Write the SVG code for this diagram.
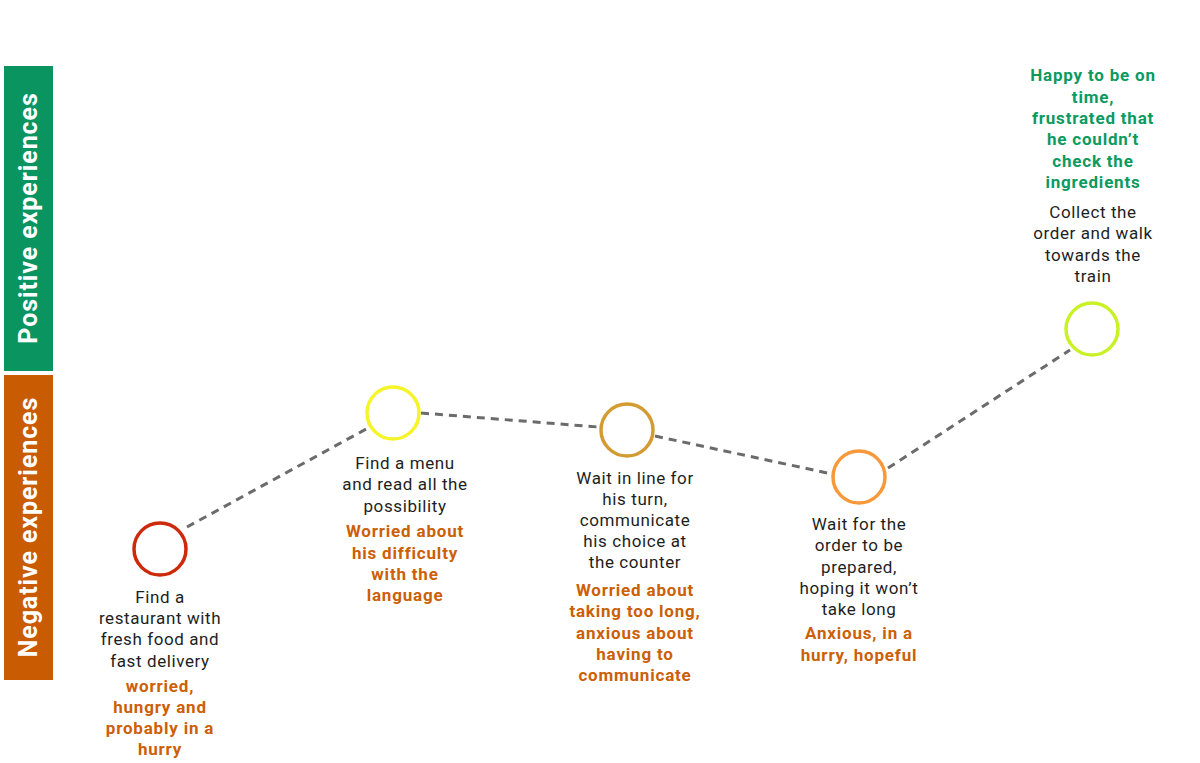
<svg xmlns="http://www.w3.org/2000/svg" width="1200" height="763" viewBox="0 0 1200 763">
  <style>
    .band { font-family: "Roboto", "Liberation Sans", sans-serif; font-weight: 700; font-size: 25px; letter-spacing: 0.9px; fill: #ffffff; text-anchor: middle; }
    .step { font-family: "Roboto", "Liberation Sans", sans-serif; font-size: 17px; letter-spacing: 0.6px; fill: #1e1e1e; text-anchor: middle; }
    .neg { font-family: "Roboto", "Liberation Sans", sans-serif; font-weight: 700; font-size: 17px; letter-spacing: 0.8px; fill: #cc5f07; text-anchor: middle; }
    .pos { font-family: "Roboto", "Liberation Sans", sans-serif; font-weight: 700; font-size: 17px; letter-spacing: 0.8px; fill: #0b9a60; text-anchor: middle; }
    .ring { fill: #ffffff; stroke-width: 3.5; }
    .link { stroke: #6b6b6b; stroke-width: 3; stroke-dasharray: 8 6; fill: none; }
  </style>

  <!-- experience bands -->
  <g id="band-positive">
    <rect x="4" y="66" width="49" height="305" fill="#0a9460"/>
    <text class="band" transform="translate(37,218) rotate(-90)">Positive experiences</text>
  </g>
  <g id="band-negative">
    <rect x="4" y="375" width="49" height="305" fill="#c95b02"/>
    <text class="band" transform="translate(37,527) rotate(-90)">Negative experiences</text>
  </g>

  <!-- journey connectors -->
  <g id="connectors">
    <line class="link" x1="187" y1="527" x2="368" y2="428"/>
    <line class="link" x1="421" y1="413" x2="598" y2="427"/>
    <line class="link" x1="655" y1="436" x2="832" y2="474"/>
    <line class="link" x1="888" y1="468" x2="1070" y2="350"/>
  </g>

  <g id="step-1">
    <circle class="ring" cx="160" cy="549" r="26" stroke="#cc2a0a"/>
    <text class="step" x="160" y="603">Find a</text>
    <text class="step" x="160" y="624">restaurant with</text>
    <text class="step" x="160" y="645">fresh food and</text>
    <text class="step" x="160" y="667">fast delivery</text>
    <text class="neg" x="160" y="692">worried,</text>
    <text class="neg" x="160" y="713">hungry and</text>
    <text class="neg" x="160" y="734">probably in a</text>
    <text class="neg" x="160" y="755">hurry</text>
  </g>

  <g id="step-2">
    <circle class="ring" cx="393" cy="413" r="26" stroke="#f4f428"/>
    <text class="step" x="405" y="469">Find a menu</text>
    <text class="step" x="405" y="490">and read all the</text>
    <text class="step" x="405" y="512">possibility</text>
    <text class="neg" x="405" y="537">Worried about</text>
    <text class="neg" x="405" y="559">his difficulty</text>
    <text class="neg" x="405" y="580">with the</text>
    <text class="neg" x="405" y="601">language</text>
  </g>

  <g id="step-3">
    <circle class="ring" cx="627" cy="430" r="26" stroke="#d39b32"/>
    <text class="step" x="635" y="484">Wait in line for</text>
    <text class="step" x="635" y="505">his turn,</text>
    <text class="step" x="635" y="526">communicate</text>
    <text class="step" x="635" y="547">his choice at</text>
    <text class="step" x="635" y="568">the counter</text>
    <text class="neg" x="635" y="596">Worried about</text>
    <text class="neg" x="635" y="617">taking too long,</text>
    <text class="neg" x="635" y="639">anxious about</text>
    <text class="neg" x="635" y="660">having to</text>
    <text class="neg" x="635" y="681">communicate</text>
  </g>

  <g id="step-4">
    <circle class="ring" cx="859" cy="477" r="26" stroke="#f7993a"/>
    <text class="step" x="859" y="530">Wait for the</text>
    <text class="step" x="859" y="551">order to be</text>
    <text class="step" x="859" y="573">prepared,</text>
    <text class="step" x="859" y="594">hoping it won’t</text>
    <text class="step" x="859" y="615">take long</text>
    <text class="neg" x="859" y="639">Anxious, in a</text>
    <text class="neg" x="859" y="661">hurry, hopeful</text>
  </g>

  <g id="step-5">
    <circle class="ring" cx="1092" cy="329" r="26" stroke="#c9f226"/>
    <text class="pos" x="1093" y="81">Happy to be on</text>
    <text class="pos" x="1093" y="103">time,</text>
    <text class="pos" x="1093" y="124">frustrated that</text>
    <text class="pos" x="1093" y="145">he couldn’t</text>
    <text class="pos" x="1093" y="167">check the</text>
    <text class="pos" x="1093" y="188">ingredients</text>
    <text class="step" x="1093" y="218">Collect the</text>
    <text class="step" x="1093" y="239">order and walk</text>
    <text class="step" x="1093" y="261">towards the</text>
    <text class="step" x="1093" y="282">train</text>
  </g>
</svg>
